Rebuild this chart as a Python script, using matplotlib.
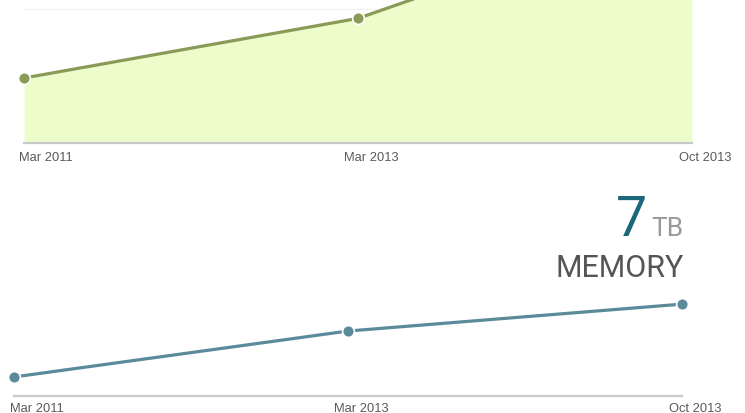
import matplotlib
matplotlib.use("Agg")
import matplotlib.pyplot as plt
import matplotlib.transforms as mtrans

# ---- data ----
dates = ["Mar 2011", "Mar 2013", "Oct 2013"]
top_values = [4.85, 9.3, 18.0]          # upper chart (cut off at the top)
memory_tb = [1.45, 4.95, 7.0]           # lower chart, TB
memory_label_value = "7"
memory_label_unit = "TB"
memory_label_name = "MEMORY"

W, H = 745, 414
fig = plt.figure(figsize=(W / 100, H / 100), dpi=100)
plt.rcParams['font.family'] = ['Liberation Sans', 'DejaVu Sans']

def px_axes(left, bottom_px, width, height):
    return fig.add_axes([left / W, (H - bottom_px) / H, width / W, height / H])

x = list(range(len(dates)))

def style(ax, label_dx, pad):
    for s in ['top', 'right', 'left']:
        ax.spines[s].set_visible(False)
    ax.spines['bottom'].set_color('#c9c9c9')
    ax.spines['bottom'].set_linewidth(1.6)
    ax.set_yticks([])
    ax.set_xticks(x, dates)
    ax.tick_params(axis='x', length=0, pad=pad, labelsize=9.3, labelcolor='#5a5a5a')
    ax.set_xlim(0, 2)
    ax.margins(x=0)
    for lab, dx in zip(ax.get_xticklabels(), label_dx):
        lab.set_transform(lab.get_transform() +
                          mtrans.ScaledTranslation(dx / 100, 0, fig.dpi_scale_trans))
    ax.set_facecolor('none')

# ---- upper chart ----
ax1 = px_axes(24, 144, 668, 268)
ax1.set_ylim(0, 20)
ax1.axhline(10, color='#f2f2f2', lw=1, zorder=0)
ax1.fill_between(x, top_values, 0, color='#edfccb', lw=0, zorder=1)
ax1.plot(x, top_values, color='#8a9a57', lw=2.3, zorder=3, solid_capstyle='round')
ax1.plot(x, top_values, 'o', color='#8a9a57', ms=8.5, mec='white', mew=1.2,
         zorder=4, clip_on=False)
style(ax1, [22, 13, 13], 6)

# ---- lower chart ----
ax2 = px_axes(14, 397, 668, 105)
ax2.set_ylim(0, 8)
ax2.plot(x, memory_tb, color='#5b8b9b', lw=2.3, zorder=3, solid_capstyle='round')
ax2.plot(x, memory_tb, 'o', color='#5b8b9b', ms=8.5, mec='white', mew=1.2,
         zorder=4, clip_on=False)
style(ax2, [23, 13, 13], 4)

# ---- big label ----
fig.text(647 / W, 1 - 236 / H, memory_label_value, ha='right', va='baseline',
         fontsize=40, color='#1b6878', family=['Roboto', 'DejaVu Sans'])
fig.text(684 / W, 1 - 236 / H, memory_label_unit, ha='right', va='baseline',
         fontsize=19, color='#999999', family=['Roboto', 'DejaVu Sans'])
fig.text(684 / W, 1 - 277 / H, memory_label_name, ha='right', va='baseline',
         fontsize=22, color='#555555', family=['Roboto', 'DejaVu Sans'])

fig.savefig("out.png", dpi=100)
